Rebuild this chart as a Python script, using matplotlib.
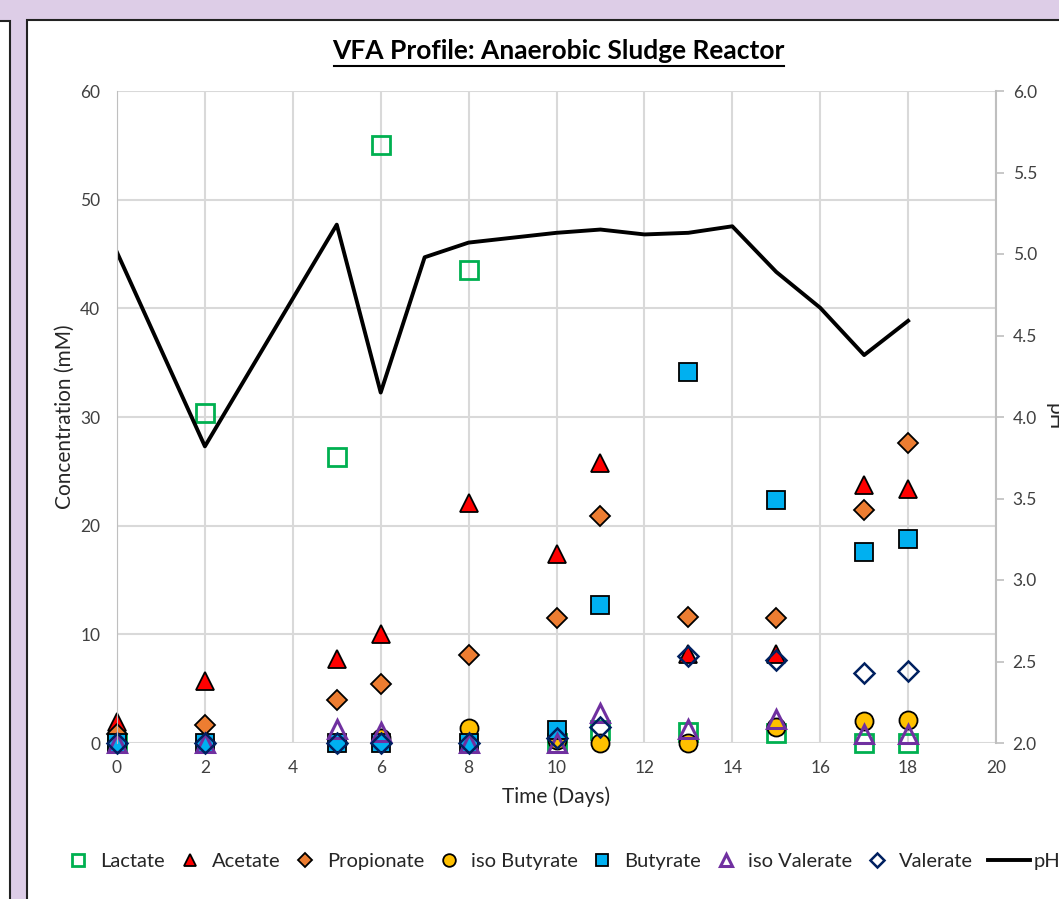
import matplotlib.pyplot as plt
from matplotlib.patches import Rectangle
from matplotlib.lines import Line2D

plt.rcParams['font.family'] = ['Lato', 'DejaVu Sans']

# sampling days for the VFA measurements
days = [0, 2, 5, 6, 8, 10, 11, 13, 15, 17, 18]

lactate = [0, 30.4, 26.3, 55.0, 43.5, 0, 1.2, 1.0, 0.9, 0, 0]
acetate = [1.9, 5.7, 7.7, 10.0, 22.1, 17.4, 25.8, 8.2, 8.2, 23.7, 23.4]
propionate = [0.8, 1.7, 4.0, 5.4, 8.1, 11.5, 20.9, 11.6, 11.5, 21.4, 27.6]
iso_butyrate = [0, 0, 0, 0.5, 1.4, 0.3, 0, 0, 1.5, 2.0, 2.1]
butyrate = [0, 0, 0, 0, 0, 1.2, 12.7, 34.1, 22.4, 17.6, 18.8]
iso_valerate = [0, 0, 1.3, 1.0, 0, 0, 2.8, 1.3, 2.2, 0.8, 0.8]
valerate = [0, 0, 0, 0, 0, 0.5, 1.5, 8.0, 7.6, 6.4, 6.6]

# pH measured daily (days 1, 3, 4 missing)
ph_days = [0, 2, 5, 6, 7, 8, 9, 10, 11, 12, 13, 14, 15, 16, 17, 18]
ph = [5.01, 3.82, 5.18, 4.15, 4.98, 5.07, 5.10, 5.13, 5.15, 5.12, 5.13, 5.17, 4.89, 4.67, 4.38, 4.59]

fig = plt.figure(figsize=(10.59, 8.99), dpi=100)
fig.patch.set_facecolor('#DDCDE7')

# white chart panels like the spreadsheet window
fig.patches.append(Rectangle((27 / 1059, -0.01), 1.0, 1 - 20 / 899 + 0.01,
                             transform=fig.transFigure, facecolor='white',
                             edgecolor='#222222', linewidth=1.5, zorder=-5))
fig.patches.append(Rectangle((-0.01, -0.01), 9.5 / 1059 + 0.01, 1 - 21 / 899 + 0.01,
                             transform=fig.transFigure, facecolor='white',
                             edgecolor='#222222', linewidth=1.5, zorder=-5))

ax = fig.add_axes([117 / 1059, 1 - 743 / 899, 879 / 1059, 652 / 899])
ax.patch.set_visible(False)
ax2 = ax.twinx()
ax2.patch.set_visible(False)

ax2.plot(ph_days, ph, color='black', linewidth=2.8, zorder=2)

series = [
    ('Lactate', lactate, 's', 'none', '#00B050', 13, 2.0),
    ('Acetate', acetate, '^', '#FF0000', 'black', 13, 1.3),
    ('Propionate', propionate, 'D', '#ED7D31', 'black', 10, 1.3),
    ('iso Butyrate', iso_butyrate, 'o', '#FFC000', 'black', 13, 1.3),
    ('Butyrate', butyrate, 's', '#00B0F0', 'black', 13, 1.3),
    ('iso Valerate', iso_valerate, '^', 'none', '#7030A0', 13, 2.2),
    ('Valerate', valerate, 'D', 'none', '#002060', 10, 1.8),
]

handles = []
for name, vals, mk, fc, ec, ms, mew in series:
    ax.plot(days, vals, linestyle='none', marker=mk, markersize=ms,
            markerfacecolor=fc, markeredgecolor=ec, markeredgewidth=mew,
            clip_on=False, zorder=3)
    handles.append(Line2D([], [], linestyle='none', marker=mk, markersize=ms * 0.7,
                          markerfacecolor=fc, markeredgecolor=ec,
                          markeredgewidth=mew, label=name))
ph_handle = Line2D([], [], color='black', linewidth=2.8, label='pH')

ax.set_xlim(0, 20)
ax.set_ylim(0, 60)
ax.set_xticks(range(0, 21, 2))
ax.set_yticks(range(0, 61, 10))
ax2.set_ylim(2.0, 6.0)
ax2.set_yticks([2.0, 2.5, 3.0, 3.5, 4.0, 4.5, 5.0, 5.5, 6.0])
ax2.set_yticklabels(['%.1f' % v for v in ax2.get_yticks()])

ax.grid(True, color='#D9D9D9', linewidth=1.5)
ax.set_axisbelow(True)
for a in (ax, ax2):
    for s in a.spines.values():
        s.set_visible(False)
ax2.spines['left'].set_visible(True)
ax2.spines['left'].set_color('#BFBFBF')
ax2.spines['right'].set_visible(True)
ax2.spines['right'].set_color('#BFBFBF')
ax2.spines['right'].set_linewidth(1.5)

ax.tick_params(axis='y', length=0, labelsize=12.5, colors='#404040', pad=12)
ax.tick_params(axis='x', length=0, labelsize=12.5, colors='#404040', pad=12)
ax2.tick_params(axis='y', length=6, width=1.2, color='#BFBFBF', labelsize=12.5,
                labelcolor='#404040', pad=6)

ax.set_xlabel('Time (Days)', fontsize=15, color='#262626', labelpad=8)
ax.set_ylabel('Concentration (mM)', fontsize=15, color='#262626', labelpad=4)
ax2.set_ylabel('pH', fontsize=15, color='#262626', rotation=-90, labelpad=20)

fig.text(558 / 1059, 1 - 51 / 899, 'VFA Profile: Anaerobic Sludge Reactor',
         ha='center', va='center', fontsize=19, fontweight='bold', color='black')
fig.add_artist(Line2D([334 / 1059, 784 / 1059], [1 - 66 / 899, 1 - 66 / 899],
                      transform=fig.transFigure, color='black', linewidth=1.5))

fig.legend(handles=handles, loc='center left', bbox_to_anchor=(50 / 1059, 1 - 861 / 899),
           ncol=7, frameon=False, fontsize=14.5, handlelength=1.0, handletextpad=0.6,
           columnspacing=0.72, labelcolor='#262626')
fig.legend(handles=[ph_handle], loc='center left', bbox_to_anchor=(970 / 1059, 1 - 861 / 899),
           frameon=False, fontsize=14.5, handlelength=2.1, handletextpad=0.15,
           labelcolor='#262626')

fig.savefig('out.png', dpi=100, facecolor=fig.get_facecolor())
